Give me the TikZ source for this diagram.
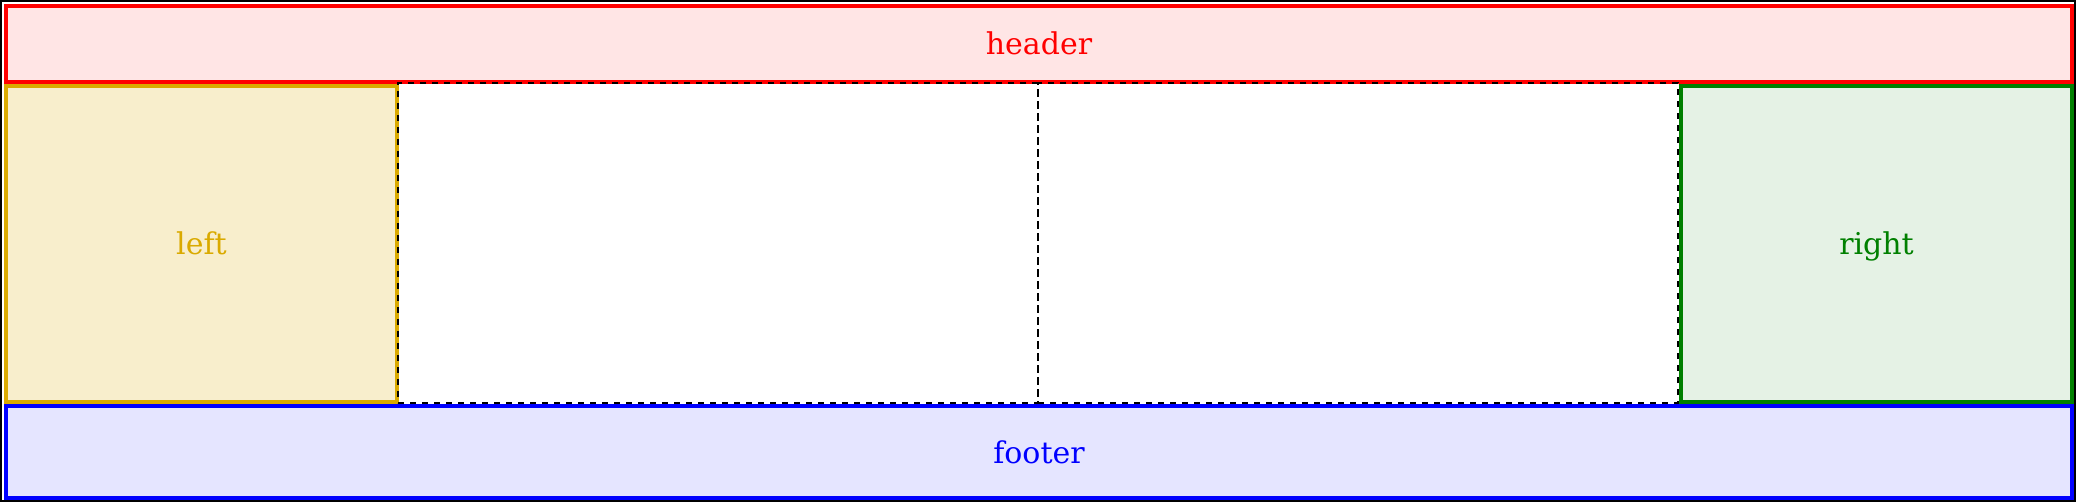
\documentclass[tikz,border=0pt]{standalone}
\usepackage{fontspec}
\setmainfont{DejaVu Serif}
\definecolor{leftgold}{RGB}{218,170,0}
\definecolor{rightgreen}{RGB}{0,128,0}
\begin{document}
\begin{tikzpicture}[x=1pt,y=-1pt,
    region/.style={draw=#1,fill=#1!10,text=#1,line width=4pt,rectangle,inner sep=0pt,
      text height=26pt,text depth=4pt},
    cell/.style={draw=black,line width=2pt,dash pattern=on 6pt off 6pt,rectangle,
      minimum width=640pt,minimum height=320pt,inner sep=0pt},
    font=\fontsize{30}{36}\selectfont]
    \useasboundingbox (0,0) rectangle (2076,502);
    % Outer frame
    \draw[line width=2pt] (1,1) rectangle (2075,501);

    % Header and footer
    \node (header) [region=red,minimum width=2066pt,minimum height=76pt] at (1039,44) {header};
    \node (footer) [region=blue,minimum width=2066pt,minimum height=92pt] at (1039,452) {footer};

    % Side columns
    \node (left) [region=leftgold,fill=leftgold!20,minimum width=391pt,minimum height=316pt] at (201.5,244) {left};
    \node (right) [region=rightgreen,minimum width=391pt,minimum height=316pt] at (1876.5,244) {right};

    % Main cells
    \node (mainA) [cell] at (718,243) {};
    \node (mainB) [cell] at (1358,243) {};
  \end{tikzpicture}
\end{document}
